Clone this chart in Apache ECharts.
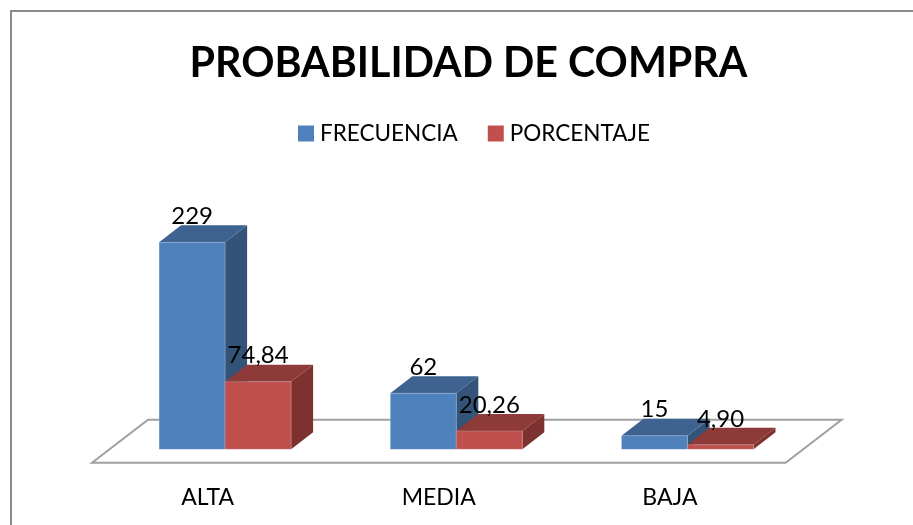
<!DOCTYPE html>
<html>
<head>
<meta charset="utf-8">
<style>html,body{margin:0;padding:0;background:#fff}#c{width:913px;height:525px}</style>
<script src="https://cdn.jsdelivr.net/npm/echarts@6/dist/echarts.min.js"></script>
</head>
<body>
<div id="c"></div>
<script>
const categories = ['ALTA', 'MEDIA', 'BAJA'];
const frecuencia = [229, 62, 15];
const porcentaje = [74.84, 20.26, 4.90];
const titleText = 'PROBABILIDAD DE COMPRA';
const FONT = 'Lato, Carlito, "Open Sans", sans-serif';

const chart = echarts.init(document.getElementById('c'), null, {renderer: 'canvas'});
const BAR = 66, DX = 22, DY = 17, FX = 17.5, FY = 13.4, FLOORX = 56, FLOORY = 43;

function fmt(v, dec) { return dec ? v.toFixed(2).replace('.', ',') : String(v); }

function barRender(sideIdx, cols, dec) {
  return function (params, api) {
    const c = api.coord([api.value(0), api.value(1)]);
    const z = api.coord([api.value(0), 0]);
    const x0 = c[0] + FX + (sideIdx === 0 ? -BAR : 0);
    const x1 = x0 + BAR;
    const top = c[1] - FY, bot = z[1] - FY;
    const poly = (pts, fill) => ({type: 'polygon', shape: {points: pts}, style: {fill: fill}});
    return {
      type: 'group',
      children: [
        poly([[x1, top], [x1 + DX, top - DY], [x1 + DX, bot - DY], [x1, bot]], cols[2]),
        poly([[x0, top], [x0 + DX, top - DY], [x1 + DX, top - DY], [x1, top]], cols[1]),
        {type: 'rect', shape: {x: x0, y: top, width: BAR, height: bot - top},
          style: {fill: cols[0], stroke: 'rgba(225,232,245,0.3)', lineWidth: 0.8}},
        {type: 'text', z2: 100, style: {
          x: (x0 + x1) / 2, y: top - 26, text: fmt(api.value(1), dec),
          fill: '#000', font: '24px ' + FONT, align: 'center', verticalAlign: 'middle'}}
      ]
    };
  };
}

const option = {
  animation: false,
  backgroundColor: '#fff',
  title: {
    text: titleText, left: 463.5, top: 38, textAlign: 'center',
    textStyle: {fontFamily: FONT, fontWeight: 'bold', fontSize: 41.2, color: '#000'}
  },
  legend: {
    left: 298, top: 122, padding: 0, itemWidth: 16, itemHeight: 16, itemGap: 30,
    data: [{name: 'FRECUENCIA', icon: 'rect'}, {name: 'PORCENTAJE', icon: 'rect'}],
    textStyle: {fontFamily: FONT, fontSize: 22.5, color: '#000', padding: [0, 0, 0, 1]}
  },
  grid: {left: 92, width: 693.6, bottom: 62.3, height: 271.2},
  xAxis: {
    type: 'category', data: categories,
    axisLine: {show: false}, axisTick: {show: false}, splitLine: {show: false},
    axisLabel: {margin: 23, fontFamily: FONT, fontSize: 23, color: '#000'}
  },
  yAxis: {type: 'value', min: 0, max: 300, show: false},
  graphic: [{
    type: 'polyline', silent: true,
    shape: {points: [[11, 525], [11, 11], [913, 11]]},
    style: {stroke: '#8c8c8c', lineWidth: 2, fill: null}
  }],
  series: [
    {
      type: 'custom', name: 'floor', silent: true, clip: false, z: 1,
      data: [[0, 0]],
      renderItem: function (params, api) {
        const r = params.coordSys;
        const yb = r.y + r.height, xl = r.x, xr = r.x + r.width;
        return {type: 'polygon', shape: {points: [
          [xl, yb], [xr, yb], [xr + FLOORX, yb - FLOORY], [xl + FLOORX, yb - FLOORY]
        ]}, style: {fill: '#fff', stroke: '#a0a0a0', lineWidth: 2}};
      }
    },
    {
      type: 'custom', name: 'FRECUENCIA', clip: false, z: 2,
      itemStyle: {color: '#4F81BD'},
      data: frecuencia.map((v, i) => [i, v]),
      renderItem: barRender(0, ['#4F81BD', '#3E6391', '#335478'], false)
    },
    {
      type: 'custom', name: 'PORCENTAJE', clip: false, z: 3,
      itemStyle: {color: '#C0504D'},
      data: porcentaje.map((v, i) => [i, v]),
      renderItem: barRender(1, ['#C0504D', '#8E3A38', '#7D3230'], true)
    }
  ]
};
chart.setOption(option);
</script>
</body>
</html>
